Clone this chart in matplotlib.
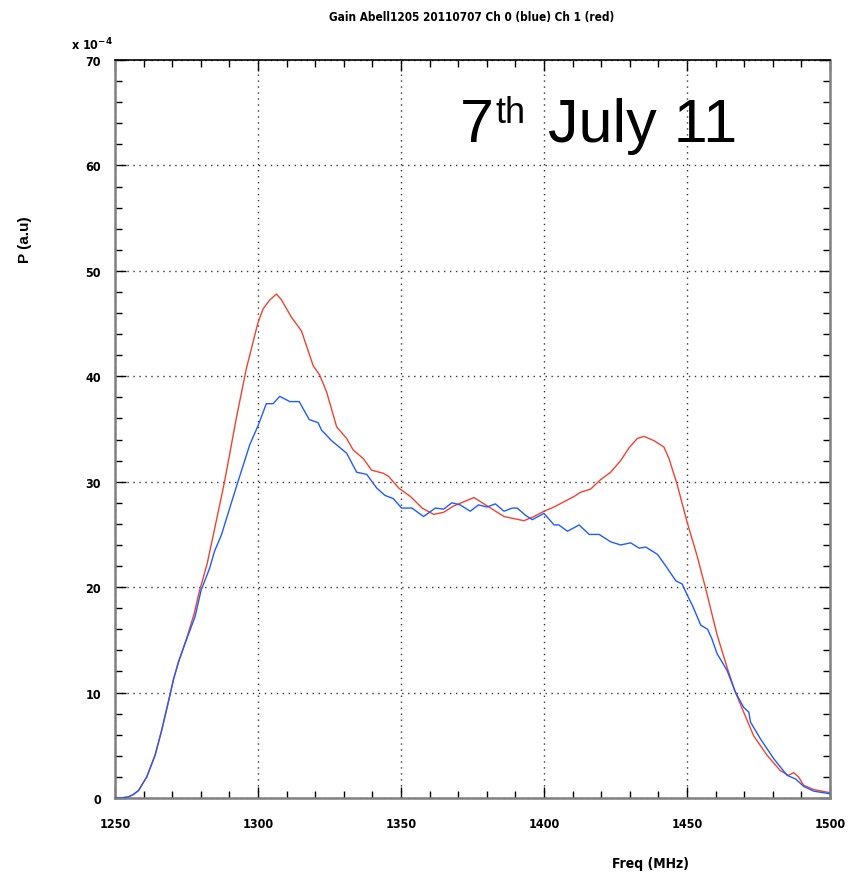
import matplotlib
matplotlib.use("Agg")
import matplotlib.pyplot as plt
from matplotlib.ticker import MultipleLocator

# ---------------- data ----------------
freq_blue = [1250, 1252, 1254.7, 1256.5, 1258.2, 1261.1, 1264, 1266.3, 1268.9, 1270.5, 1272.2,
             1275.1, 1278, 1280.1, 1283.1, 1284.8, 1287.2, 1290, 1293, 1297.1, 1300,
             1302.9, 1305.3, 1307.6, 1311.1, 1314.4, 1317.9, 1321, 1322.2, 1325.7, 1331,
             1334.5, 1338, 1341.5, 1344.4, 1347.3, 1350.2, 1353.8, 1357.9, 1362, 1364.9,
             1367.8, 1370.7, 1374.2, 1377.1, 1380.1, 1383, 1386, 1388.9, 1390.6, 1393.6,
             1395.9, 1400, 1403.5, 1405.2, 1408.2, 1412.3, 1415.8, 1419.3, 1423.3, 1426.8,
             1430.3, 1433.3, 1435.6, 1439.7, 1442.6, 1446.1, 1448.3, 1450, 1452, 1454.8,
             1457.2, 1458.7, 1460.5, 1464, 1466.9, 1469.8, 1471.6, 1472.2, 1475.7, 1480.4,
             1485, 1488, 1490.8, 1494.3, 1500]
p_blue = [0.0, 0.0, 0.1, 0.35, 0.7, 2.0, 4.05, 6.4, 9.4, 11.3, 12.9,
          15.1, 17.2, 19.7, 21.8, 23.4, 24.95, 27.4, 30.0, 33.5, 35.3,
          37.4, 37.4, 38.1, 37.6, 37.6, 35.9, 35.6, 34.9, 33.9, 32.7,
          30.9, 30.7, 29.4, 28.7, 28.4, 27.5, 27.5, 26.7, 27.5, 27.4,
          28.0, 27.8, 27.2, 27.8, 27.6, 27.9, 27.2, 27.5, 27.5, 26.8,
          26.4, 27.0, 25.9, 25.9, 25.3, 25.9, 25.0, 25.0, 24.3, 24.0,
          24.2, 23.7, 23.8, 23.1, 22.0, 20.6, 20.3, 19.3, 18.2, 16.4,
          16.0, 15.1, 13.7, 12.1, 10.05, 8.6, 8.15, 7.2, 5.6, 3.7,
          2.15, 1.8, 1.1, 0.65, 0.4]

freq_red = [1250, 1252, 1254.7, 1256.5, 1258.2, 1261.1, 1264, 1266.3, 1268.9, 1270.5, 1272.2,
            1275.1, 1277.6, 1279.5, 1282.2, 1285.2, 1288.3, 1292.4, 1295.9, 1300, 1301.8, 1304,
            1306.4, 1308.1, 1311.7, 1315.2, 1319.3, 1321.6, 1324, 1327.5, 1331, 1333.3,
            1336.8, 1339.7, 1343.8, 1345.7, 1349.2, 1353.3, 1357.4, 1361.4, 1364.9, 1368.4,
            1372, 1375.5, 1379, 1382.5, 1386, 1389.5, 1393, 1396.5, 1400, 1403.5,
            1407, 1410.5, 1412.8, 1416.3, 1419.8, 1423.3, 1426.8, 1429.7, 1432.6, 1435,
            1438.4, 1441.9, 1443.7, 1446.6, 1450, 1453.5, 1456.4, 1460.5, 1464, 1466.9,
            1469.8, 1473.3, 1478, 1482.6, 1485.5, 1487.3, 1489, 1490.8, 1494.3, 1500]
p_red = [0.0, 0.0, 0.1, 0.35, 0.7, 2.0, 4.05, 6.4, 9.4, 11.3, 12.9,
         15.2, 17.4, 19.6, 22.2, 26.0, 30.0, 36.0, 40.7, 45.1, 46.4, 47.2,
         47.8, 47.3, 45.6, 44.3, 41.0, 40.1, 38.5, 35.2, 34.1, 33.0,
         32.2, 31.1, 30.8, 30.5, 29.4, 28.6, 27.5, 26.9, 27.1, 27.7,
         28.1, 28.5, 27.9, 27.3, 26.7, 26.5, 26.3, 26.7, 27.2, 27.6,
         28.1, 28.6, 29.0, 29.3, 30.2, 30.9, 32.0, 33.2, 34.1, 34.3,
         33.9, 33.3, 32.2, 29.7, 26.2, 23.0, 20.0, 15.5, 12.4, 10.05,
         8.15, 5.9, 4.05, 2.6, 2.15, 2.4, 2.0, 1.2, 0.8, 0.5]

x_ticks = [1250, 1300, 1350, 1400, 1450, 1500]
y_ticks = [0, 10, 20, 30, 40, 50, 60, 70]

title = "Gain Abell1205 20110707 Ch 0 (blue) Ch 1 (red)"

# ---------------- figure ----------------
narrow = ["DejaVu Sans"]
plain = ["Liberation Sans", "DejaVu Sans"]

fig = plt.figure(figsize=(8.52, 8.79), dpi=100)
ax = fig.add_axes([115 / 852, 1 - 799 / 879, (830 - 115) / 852, (799 - 61) / 879])

ax.plot(freq_blue, p_blue, color="#1f5cff", lw=1.0, zorder=3)
ax.plot(freq_red, p_red, color="#f0432e", lw=1.0, zorder=2)

ax.set_xlim(1250, 1500)
ax.set_ylim(0, 70)
ax.set_xticks(x_ticks)
ax.set_yticks(y_ticks)
ax.xaxis.set_minor_locator(MultipleLocator(10))
ax.yaxis.set_minor_locator(MultipleLocator(2))
ax.tick_params(which="both", direction="in", top=True, right=True, color="black")
ax.tick_params(which="major", length=8, width=1)
ax.tick_params(which="minor", length=5, width=1)
ax.tick_params(axis="x", which="major", pad=14)
ax.tick_params(axis="y", which="major", pad=10)
for lab in ax.get_xticklabels() + ax.get_yticklabels():
    lab.set_fontfamily(narrow)
    lab.set_fontstretch("condensed")
    lab.set_fontweight("bold")
    lab.set_fontsize(9)

ax.grid(True, which="major", linestyle=(0, (1, 3.3)), color="#333333", lw=1.0)

for side in ["left", "right", "bottom"]:
    ax.spines[side].set_color("#808080")
    ax.spines[side].set_linewidth(1.8)
ax.spines["top"].set_color("black")
ax.spines["top"].set_linewidth(1.2)

fig.text(472 / 852, 1 - 18 / 879, title, ha="center", va="center",
         fontsize=8.5, fontweight="bold", family=narrow, fontstretch="condensed")
fig.text(650 / 852, 1 - 864 / 879, "Freq (MHz)", ha="center", va="center",
         fontsize=10, fontweight="bold", family=narrow, fontstretch="condensed")
fig.text(25 / 852, 1 - 240 / 879, "P (a.u)", ha="center", va="center", rotation=90,
         fontsize=11, fontweight="bold", family=plain)
fig.text(71 / 852, 1 - 50 / 879, r"x 10$^{\mathbf{-4}}$", ha="left", va="baseline",
         fontsize=9, fontweight="bold", family=narrow, fontstretch="condensed")

fig.text(460 / 852, 1 - 142.3 / 879, "7", ha="left", va="baseline",
         fontsize=44, family=plain)
fig.text(495 / 852, 1 - 123.3 / 879, "th", ha="left", va="baseline",
         fontsize=26, family=plain)
fig.text(548 / 852, 1 - 142.3 / 879, "July 11", ha="left", va="baseline",
         fontsize=44, family=plain)

fig.savefig("out.png", dpi=100)
